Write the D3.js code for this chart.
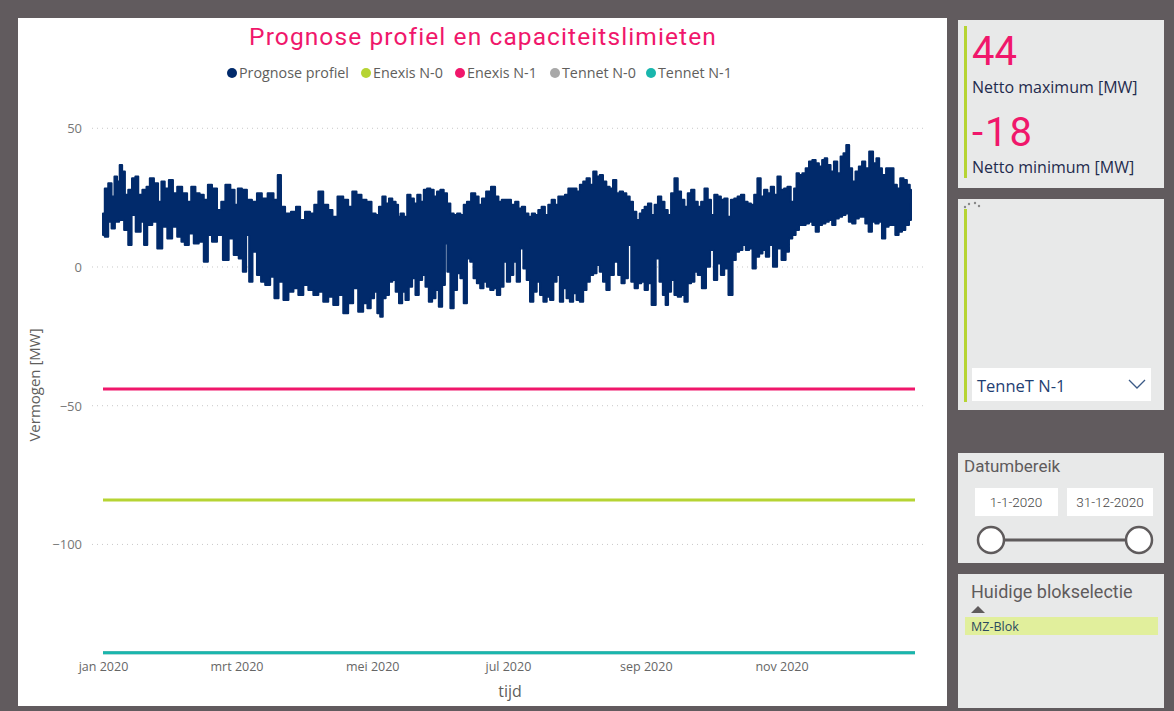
<!DOCTYPE html>
<html><head><meta charset="utf-8">
<script src="https://cdn.jsdelivr.net/npm/d3@7"></script>
<style>
body{margin:0;background:#615b5e;width:1174px;height:711px;overflow:hidden}
svg{display:block}
</style></head><body>
<svg id="c" width="1174" height="711"></svg>
<script>
// ---------- data ----------
const seriesNames  = ["Prognose profiel","Enexis N-0","Enexis N-1","Tennet N-0","Tennet N-1"];
const seriesColors = ["#012a6b","#b6d433","#f0176b","#a8a8a8","#19b6ad"];
const limitValues  = [null, -84, -44, -139, -139];   // constant capacity limits [MW]
const yTicks = [50, 0, -50, -100];
const xTickDates  = ["2020-01-01","2020-03-01","2020-05-01","2020-07-01","2020-09-01","2020-11-01"];
const xTickLabels = ["jan 2020","mrt 2020","mei 2020","jul 2020","sep 2020","nov 2020"];
const kpiValues = ["44","-18"];
const kpiLabels = ["Netto maximum [MW]","Netto minimum [MW]"];

// upper envelope of the forecast profile: [day of year, MW]
const topEnvelope = [[0,19.3],[1.6,28.3],[3.1,30.2],[4.6,25.4],[5.7,32.6],[6.9,30.8],[8.1,36.8],[9.1,34.4],[10.6,26.0],[12.1,27.8],[14.0,32.0],[15.1,32.6],[16.6,26.0],[18.8,27.8],[20.3,28.9],[21.8,32.0],[24.0,30.2],[25.5,23.5],[27.0,30.8],[28.5,28.3],[30.7,31.4],[32.2,26.6],[34.5,28.9],[36.7,26.6],[38.9,23.5],[40.4,28.9],[42.7,26.6],[44.2,26.0],[46.4,24.2],[47.9,29.6],[50.1,28.3],[52.4,20.5],[53.9,23.5],[56.1,29.6],[58.4,27.8],[59.9,22.4],[61.3,28.3],[63.6,27.8],[65.8,24.2],[68.1,23.5],[70.3,26.6],[72.5,24.7],[75.5,26.6],[77.8,24.2],[79.3,33.2],[80.7,21.7],[83.0,19.3],[86.0,19.9],[87.5,21.7],[89.7,16.9],[91.9,19.9],[94.2,19.3],[95.7,22.4],[97.9,27.2],[100.1,22.4],[102.4,20.5],[103.9,18.1],[106.9,25.4],[109.1,24.2],[111.3,21.7],[112.8,27.2],[115.1,26.0],[117.3,24.2],[119.6,23.5],
[121.8,19.3],[123.3,18.7],[124.8,21.7],[126.3,25.4],[127.8,22.9],[129.3,24.7],[130.8,23.5],[132.3,22.4],[133.0,18.1],[134.5,19.3],[136.0,18.1],[137.5,26.0],[139.0,24.7],[140.5,22.9],[142.0,26.0],[143.5,23.5],[144.9,27.8],[146.4,28.3],[147.9,27.8],[149.4,25.4],[150.9,27.2],[152.4,27.8],[153.9,26.6],[155.4,22.9],[156.9,19.3],[158.4,18.7],[159.9,19.3],[161.4,18.7],[162.9,22.4],[164.3,23.5],[166.6,26.6],[168.1,25.4],[169.6,22.4],[171.1,24.7],[173.3,27.2],[175.5,28.9],[177.0,25.4],[178.5,23.5],[180.0,24.2],[182.3,24.2],[184.5,22.4],[186.0,23.5],[187.5,21.1],[189.0,21.7],[190.5,19.3],[192.0,18.1],[193.5,19.3],[194.9,18.7],[196.4,20.5],[197.9,21.7],[199.4,18.7],[200.9,22.4],[202.4,24.2],[203.9,22.4],[205.4,25.4],[206.9,25.4],[208.4,26.0],[209.9,28.3],[212.1,28.3],[213.6,27.2],[215.1,29.6],[216.6,30.8],[218.1,32.0],[219.6,29.6],[221.1,34.4],[222.6,32.6],[224.0,33.2],[225.5,30.8],[227.0,28.9],[228.5,28.3],[230.0,31.4],[231.5,26.6],[233.0,27.2],[234.5,26.6],[236.0,25.4],[237.5,23.5],[239.0,19.9],[240.5,16.9],[242.0,19.3],
[242.7,20.5],[244.2,21.7],[245.7,22.9],[247.2,18.7],[248.7,22.4],[250.2,25.4],[251.7,23.5],[253.1,20.5],[254.6,18.7],[256.1,26.6],[257.6,32.0],[259.1,27.2],[260.6,24.2],[262.1,21.7],[263.6,26.6],[265.1,27.8],[266.6,23.5],[268.1,21.7],[269.6,23.5],[271.1,28.3],[272.6,24.2],[274.0,18.7],[275.5,26.0],[277.0,25.4],[278.5,24.2],[280.0,24.7],[281.5,18.1],[283.0,24.2],[284.5,24.7],[286.0,25.4],[287.5,26.0],[289.0,23.5],[290.5,22.9],[292.0,22.4],[293.4,26.0],[294.9,32.0],[296.4,25.4],[297.9,27.8],[299.4,26.6],[300.9,28.9],[302.4,26.0],[303.9,32.6],[305.4,27.8],[306.9,28.3],[308.4,28.9],[309.9,23.5],[311.4,28.3],[312.1,33.8],[313.6,33.2],[315.1,33.8],[316.6,35.6],[318.1,38.0],[319.6,38.6],[321.1,37.4],[322.5,36.2],[324.0,38.6],[324.8,39.2],[326.3,36.8],[327.8,34.4],[329.3,38.0],[330.8,33.8],[332.3,39.8],[333.4,41.0],[334.8,44.0],[336.0,35.6],[337.5,30.8],[339.0,34.4],[340.5,36.2],[341.9,38.0],[343.4,35.6],[345.4,41.6],[346.9,37.4],[348.4,39.2],[349.4,35.6],[350.9,33.2],[353.1,35.6],[354.6,35.6],[356.1,29.6],[357.6,28.3],[359.1,32.0],[360.6,31.4],[362.1,29.6],[363.2,27.8]];

// lower envelope of the forecast profile: [day of year, MW]
const bottomEnvelope = [[0,11.5],[1.6,10.9],[3.1,16.3],[4.6,13.9],[6.1,16.3],[8.4,16.9],[10.6,13.3],[12.1,7.9],[13.6,18.7],[15.8,12.7],[18.1,16.3],[18.8,7.9],[21.0,15.1],[23.3,16.3],[25.5,6.7],[27.8,14.5],[30.0,10.3],[32.2,14.5],[34.5,10.9],[36.0,9.1],[37.5,7.9],[39.7,12.1],[41.9,8.5],[44.2,9.1],[46.4,1.9],[47.9,11.5],[50.1,9.1],[52.4,11.5],[55.4,2.5],[57.6,10.3],[59.9,4.3],[62.1,3.1],[63.6,-1.7],[65.1,11.5],[66.3,-5.3],[68.1,5.5],[70.3,-2.9],[71.8,-5.3],[74.0,-6.5],[76.3,-3.5],[77.8,-11.3],[80.0,-5.3],[82.2,-11.9],[84.5,-8.9],[86.7,-7.7],[88.9,-10.1],[91.2,-6.5],[93.4,-8.3],[95.7,-10.1],[97.9,-8.9],[100.1,-12.5],[102.4,-10.7],[104.6,-13.7],[106.9,-10.1],[109.1,-16.7],[111.3,-13.1],[113.6,-7.7],[115.8,-16.1],[118.1,-13.1],[119.6,-14.9],
[121.1,-11.3],[122.6,-8.9],[124.0,-16.7],[125.2,-17.9],[126.3,-11.3],[127.8,-10.1],[129.3,-5.3],[130.8,-4.7],[132.3,-8.9],[133.8,-13.1],[135.2,-8.9],[136.7,-11.9],[138.2,-7.1],[139.7,-4.1],[141.2,-10.1],[142.7,-4.7],[144.2,-2.9],[145.7,-7.1],[147.2,-12.5],[148.7,-11.3],[150.2,-8.3],[151.7,-14.3],[153.2,-6.5],[154.2,8.5],[155.4,-1.7],[156.9,-14.9],[158.4,-8.3],[159.9,-2.3],[161.4,-4.1],[162.9,-13.1],[164.3,3.1],[165.8,1.9],[167.3,-4.1],[168.8,-5.9],[170.3,-7.7],[171.8,-5.3],[173.3,-7.1],[174.8,-8.3],[176.3,-7.7],[177.8,-10.1],[179.3,-7.1],[180.8,1.9],[182.3,-5.3],[183.7,-2.9],[185.2,1.9],[186.7,-5.3],[188.2,6.7],[189.7,-0.5],[191.2,-4.7],[192.7,-12.5],[194.2,-8.9],[195.7,-5.3],[197.2,-10.1],[198.7,-12.5],[200.2,-10.7],[201.7,-11.9],[203.2,-5.3],[204.6,-2.9],[206.1,-12.5],[207.6,-7.7],[209.1,-11.3],[210.6,-12.5],[212.1,-9.5],[213.6,-11.9],[215.1,-12.5],[216.6,-8.3],[218.1,-5.3],[219.6,-2.9],[221.1,-2.3],[222.6,0.7],[224.0,-1.7],[225.5,-5.3],[227.0,-8.3],[228.5,-2.9],[230.8,1.9],[232.3,-2.9],[233.8,-5.9],[235.2,-4.1],[236.7,7.9],[238.2,-5.3],[239.7,-7.7],[241.2,-5.9],
[242.7,-5.3],[244.2,-8.3],[245.7,-5.9],[247.5,-13.7],[249.4,3.1],[250.9,-5.3],[252.4,-10.1],[253.4,-13.7],[254.6,-8.9],[256.1,-4.7],[257.6,-10.1],[259.1,-10.7],[260.6,-10.1],[262.1,-12.5],[263.6,-5.9],[265.1,-5.3],[266.6,-1.7],[268.1,-2.9],[270.3,-7.7],[271.8,0.1],[274.0,6.1],[275.2,-4.7],[277.0,1.3],[278.5,-2.9],[280.0,-0.5],[282.3,-10.1],[283.7,2.5],[285.2,5.5],[286.7,6.1],[288.2,7.9],[289.7,6.1],[291.2,6.7],[292.7,-0.5],[294.2,3.7],[295.7,4.9],[297.2,6.1],[298.7,3.7],[300.2,7.9],[302.1,0.1],[303.9,6.7],[306.1,2.5],[307.6,5.5],[309.1,10.3],[310.6,11.5],[312.1,13.3],[313.6,15.1],[315.1,15.1],[316.6,15.7],[318.1,16.3],[319.6,15.1],[321.1,12.7],[322.5,15.1],[324.0,15.7],[325.5,16.3],[327.0,16.9],[328.5,15.1],[330.0,17.5],[331.5,18.1],[333.0,18.7],[334.5,19.3],[336.0,16.3],[337.5,15.7],[339.0,17.5],[340.5,18.1],[341.9,18.1],[343.4,15.7],[344.9,12.7],[346.4,16.3],[347.9,15.7],[349.4,16.3],[350.9,10.3],[352.4,14.5],[353.9,15.1],[355.4,15.1],[356.9,11.5],[358.4,12.7],[359.9,13.3],[361.4,15.1],[363.2,16.9]];

// ---------- drawing ----------
const svg = d3.select("#c");
const FONT = "'Segoe UI','Open Sans','Noto Sans',sans-serif";
const TITLEFONT = "'DIN','Roboto','Noto Sans',sans-serif";

// main chart panel
svg.append("rect").attr("x",18).attr("y",18).attr("width",929).attr("height",688).attr("fill","#ffffff");

const t0 = new Date(Date.UTC(2020,0,1));
const dayToDate = d => new Date(t0.getTime() + d*86400000);
const x = d3.scaleUtc().domain([t0, new Date(Date.UTC(2020,11,31))]).range([103, 915]);
const y = d3.scaleLinear().domain([-140, 55]).range([655.4, 114.4]);

// gridlines
svg.append("g").selectAll("line").data(yTicks).join("line")
  .attr("x1",92).attr("x2",925).attr("y1",d=>y(d)).attr("y2",d=>y(d))
  .attr("stroke","#c8c8c8").attr("stroke-width",1).attr("stroke-dasharray","1,4");

// y axis
const yAxis = svg.append("g").attr("transform","translate(82,0)")
  .call(d3.axisLeft(y).tickValues(yTicks).tickSize(0).tickPadding(0));
yAxis.select(".domain").remove();
yAxis.selectAll("text").attr("font-family",FONT).attr("font-size",13).attr("fill","#777777").attr("dy","0.35em");

// x axis
const xAxis = svg.append("g").attr("transform","translate(0,660)")
  .call(d3.axisBottom(x).tickValues(xTickDates.map(s=>new Date(s+"T00:00:00Z"))).tickFormat((d,i)=>xTickLabels[i]).tickSize(0).tickPadding(0));
xAxis.select(".domain").remove();
xAxis.selectAll("text").attr("font-family",FONT).attr("font-size",12.5).attr("fill","#666666").attr("dy","0.9em");

// axis titles
svg.append("text").attr("x",510).attr("y",697).attr("text-anchor","middle")
  .attr("font-family",FONT).attr("font-size",16).attr("fill","#605e5c").text("tijd");
svg.append("text").attr("transform","translate(40,385) rotate(-90)").attr("text-anchor","middle")
  .attr("font-family",FONT).attr("font-size",15).attr("fill","#605e5c").text("Vermogen [MW]");

// capacity limit lines
const limitLine = d3.line().x(d=>x(dayToDate(d[0]))).y(d=>y(d[1]));
const limitIdx = [3,4,1,2];
limitIdx.forEach(i=>{
  if (limitValues[i]===null) return;
  svg.append("path").datum([[0,limitValues[i]],[365,limitValues[i]]])
    .attr("d",limitLine).attr("fill","none").attr("stroke",seriesColors[i]).attr("stroke-width",3);
});

// forecast profile band
const band = topEnvelope.concat(bottomEnvelope.slice().reverse());
svg.append("path")
  .attr("d", d3.line().x(d=>x(dayToDate(d[0]))).y(d=>y(d[1])).curve(d3.curveStep)(band) + "Z")
  .attr("fill",seriesColors[0]).attr("stroke",seriesColors[0]).attr("stroke-width",2).attr("stroke-linejoin","round");

// title
svg.append("text").attr("x",483).attr("y",45).attr("text-anchor","middle")
  .attr("font-family",TITLEFONT).attr("font-size",24.5).attr("fill","#f0176b").attr("letter-spacing","1.1").text("Prognose profiel en capaciteitslimieten");

// legend
const legX = [232, 366, 460, 555, 651];
const leg = svg.append("g");
seriesNames.forEach((n,i)=>{
  leg.append("circle").attr("cx",legX[i]).attr("cy",73).attr("r",5).attr("fill",seriesColors[i]);
  leg.append("text").attr("x",legX[i]+7).attr("y",78).attr("font-family",FONT).attr("font-size",14.3).attr("fill","#605e5c").text(n);
});

// ---------- side panels ----------
const P = "#e8e9e9";
// KPI panel
svg.append("rect").attr("x",958).attr("y",20).attr("width",206).attr("height",168).attr("fill",P);
svg.append("rect").attr("x",964).attr("y",26).attr("width",3).attr("height",152).attr("fill","#b6d433");
[0,1].forEach(i=>{
  svg.append("text").attr("x",972).attr("y",[65,146][i]).attr("font-family",TITLEFONT).attr("font-size",40)
    .attr("fill","#f0176b").attr("letter-spacing", i ? 2 : 0).text(kpiValues[i]);
  svg.append("text").attr("x",972).attr("y",[93,173][i]).attr("font-family",FONT).attr("font-size",16)
    .attr("fill","#1f2b4d").text(kpiLabels[i]);
});

// dropdown panel
svg.append("rect").attr("x",958).attr("y",199).attr("width",206).attr("height",211).attr("fill",P);
svg.append("rect").attr("x",964).attr("y",209).attr("width",3).attr("height",193).attr("fill","#b6d433");
[[965,207],[969,204],[975,203],[979,206]].forEach(p=>svg.append("circle").attr("cx",p[0]).attr("cy",p[1]).attr("r",1.2).attr("fill","#888"));
svg.append("rect").attr("x",972).attr("y",368).attr("width",179).attr("height",33).attr("fill","#ffffff");
svg.append("text").attr("x",977).attr("y",392).attr("font-family",FONT).attr("font-size",16.5).attr("fill","#1f3f73").text("TenneT N-1");
svg.append("path").attr("d","M1129,380 L1137,388 L1145,380").attr("fill","none").attr("stroke","#3b5a86").attr("stroke-width",1.3);

// date range panel
svg.append("rect").attr("x",958).attr("y",453).attr("width",206).attr("height",110).attr("fill",P);
svg.append("text").attr("x",964).attr("y",472).attr("font-family",TITLEFONT).attr("font-size",17).attr("fill","#5f5b5c").text("Datumbereik");
svg.append("rect").attr("x",975).attr("y",488).attr("width",83).attr("height",28).attr("fill","#fff");
svg.append("rect").attr("x",1067).attr("y",488).attr("width",86).attr("height",28).attr("fill","#fff");
svg.append("text").attr("x",1016).attr("y",507).attr("text-anchor","middle").attr("font-family",TITLEFONT).attr("font-size",13.5).attr("font-weight",300).attr("fill","#444").text("1-1-2020");
svg.append("text").attr("x",1110).attr("y",507).attr("text-anchor","middle").attr("font-family",TITLEFONT).attr("font-size",13.5).attr("font-weight",300).attr("fill","#444").text("31-12-2020");
svg.append("line").attr("x1",991).attr("x2",1139).attr("y1",540).attr("y2",540).attr("stroke","#5f5b5c").attr("stroke-width",3);
[991,1139].forEach(cx=>svg.append("circle").attr("cx",cx).attr("cy",540).attr("r",13).attr("fill","#fff").attr("stroke","#5f5b5c").attr("stroke-width",2.5));

// block selection panel
svg.append("rect").attr("x",958).attr("y",574).attr("width",206).attr("height",134).attr("fill",P);
svg.append("text").attr("x",971).attr("y",598).attr("font-family",TITLEFONT).attr("font-size",18).attr("fill","#5f5b5c").text("Huidige blokselectie");
svg.append("path").attr("d","M971,613 L978,606 L985,613 Z").attr("fill","#5f5b5c");
svg.append("rect").attr("x",965).attr("y",617).attr("width",193).attr("height",18).attr("fill","#e1ef9c");
svg.append("text").attr("x",971).attr("y",631).attr("font-family",FONT).attr("font-size",12.5).attr("fill","#2b4a5e").text("MZ-Blok");
</script>
</body></html>
